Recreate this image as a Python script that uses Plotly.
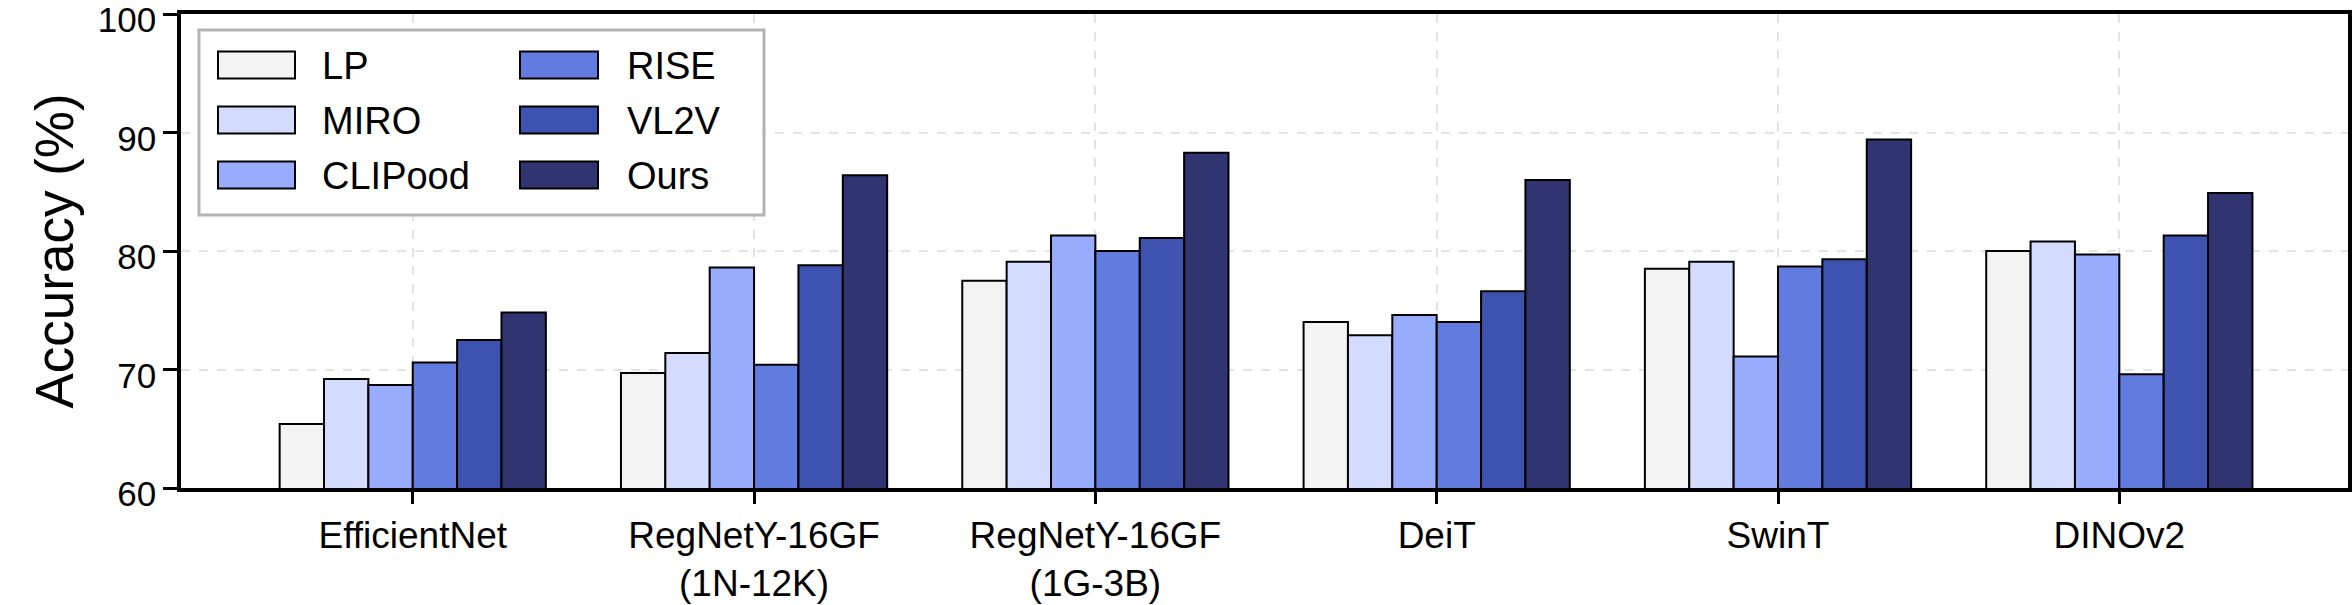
import plotly.graph_objects as go

# ---------------- data ----------------
categories = ["EfficientNet", "RegNetY-16GF<br>(1N-12K)", "RegNetY-16GF<br>(1G-3B)",
              "DeiT", "SwinT", "DINOv2"]
methods = ["LP", "MIRO", "CLIPood", "RISE", "VL2V", "Ours"]

lp_vals = [65.4, 69.7, 77.5, 74.0, 78.5, 80.0]
miro_vals = [69.2, 71.4, 79.1, 72.9, 79.1, 80.8]
clipood_vals = [68.7, 78.6, 81.3, 74.6, 71.1, 79.7]
rise_vals = [70.6, 70.4, 80.0, 74.0, 78.7, 69.6]
vl2v_vals = [72.5, 78.8, 81.1, 76.6, 79.3, 81.3]
ours_vals = [74.8, 86.4, 88.3, 86.0, 89.4, 84.9]

series = [lp_vals, miro_vals, clipood_vals, rise_vals, vl2v_vals, ours_vals]
colors = ["#f3f3f3", "#d3dcfe", "#97acfd", "#627bde", "#3e53b0", "#303470"]

y_ticks = [60, 70, 80, 90, 100]

# ---------------- figure ----------------
W, H = 2352, 605
ML, MR, MT, MB = 181, 4, 14, 117
FONT = "Liberation Sans, Arial, sans-serif"

fig = go.Figure()
for name, vals, col in zip(methods, series, colors):
    fig.add_trace(go.Bar(
        x=categories, y=vals, name=name, showlegend=False,
        marker=dict(color=col, line=dict(color="black", width=2)),
    ))

fig.update_layout(
    width=W, height=H,
    margin=dict(l=ML, r=MR, t=MT, b=MB, pad=0),
    paper_bgcolor="white", plot_bgcolor="white",
    barmode="group", bargap=0.22, bargroupgap=0,
    font=dict(family=FONT, color="black"),
)

fig.update_xaxes(
    type="category", range=[-0.679, 5.670], automargin=False,
    showline=True, linecolor="black", linewidth=3.5, mirror=True,
    ticks="outside", ticklen=12, tickwidth=3, tickcolor="black",
    tickfont=dict(size=37, family=FONT),
    showgrid=True, gridcolor="#e3e3e3", griddash="dash", gridwidth=2,
)
fig.update_yaxes(
    range=[60, 100], tickvals=y_ticks, automargin=False,
    ticklabeloverflow="allow", ticklabelshift=6,
    showline=True, linecolor="black", linewidth=3.5, mirror=True,
    ticks="outside", ticklen=14, tickwidth=3, tickcolor="black",
    tickfont=dict(size=35, family=FONT),
    showgrid=True, gridcolor="#e3e3e3", griddash="dash", gridwidth=2,
    zeroline=False,
    title=dict(text="Accuracy (%)", font=dict(size=53, family=FONT), standoff=8),
)

# ---------------- legend (drawn in paper coordinates) ----------------
PW = W - ML - MR
PH = H - MT - MB


def px(xp):
    return (xp - ML) / PW


def py(yp):
    return (H - MB - yp) / PH


fig.add_shape(type="rect", xref="paper", yref="paper",
              x0=px(199), x1=px(764), y0=py(215), y1=py(30),
              line=dict(color="#b3b3b3", width=3), fillcolor="white", layer="above")

col_patch = [(218, 295, 320), (520, 598, 625)]
row_y = [65, 120, 175]
for i, (name, col) in enumerate(zip(methods, colors)):
    c, r = divmod(i, 3)
    x0, x1, xt = col_patch[c]
    yc = row_y[r]
    fig.add_shape(type="rect", xref="paper", yref="paper",
                  x0=px(x0), x1=px(x1), y0=py(yc + 13.5), y1=py(yc - 13.5),
                  line=dict(color="black", width=2), fillcolor=col, layer="above")
    fig.add_annotation(xref="paper", yref="paper", x=px(xt), y=py(yc + 1),
                       text=name, showarrow=False, xanchor="left", yanchor="middle",
                       font=dict(size=38, family=FONT, color="black"))

fig.write_html("out.html")
